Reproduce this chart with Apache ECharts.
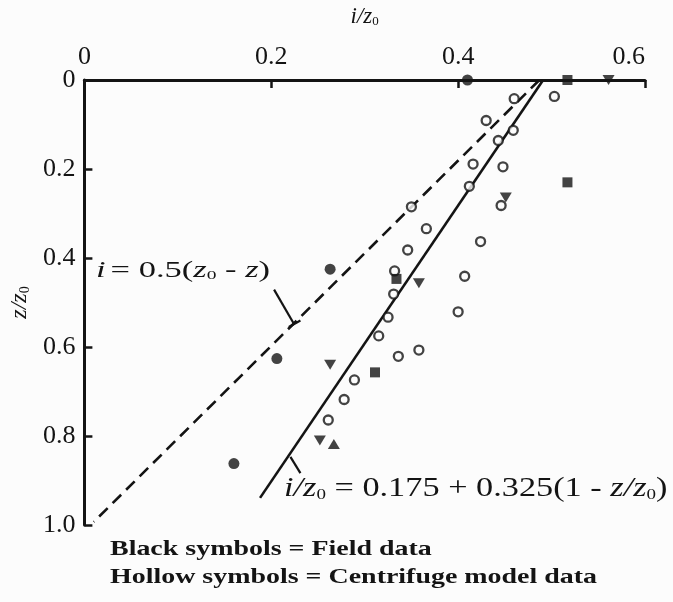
<!DOCTYPE html>
<html><head><meta charset="utf-8">
<script src="https://cdn.jsdelivr.net/npm/echarts@6/dist/echarts.min.js"></script>
<style>html,body{margin:0;padding:0;background:#fcfcfc}#c{width:673px;height:602px}</style>
</head><body><div id="c"></div>
<script>
// tick values
const xTicks = [0, 0.2, 0.4, 0.6];
const yTicks = [0, 0.2, 0.4, 0.6, 0.8, 1.0];
// Field data (black symbols) [i/z0, z/z0]
const fieldCircles = [[0.410, 0.000], [0.263, 0.425], [0.206, 0.626], [0.160, 0.862]];
const fieldSquares = [[0.517, 0.000], [0.517, 0.230], [0.334, 0.447], [0.311, 0.657]];
const fieldDownTriangles = [[0.561, 0.000], [0.451, 0.264], [0.358, 0.457], [0.263, 0.640], [0.252, 0.810]];
const fieldUpTriangles = [[0.267, 0.818]];
// Centrifuge model data (hollow symbols)
const centrifuge = [
  [0.503, 0.037], [0.460, 0.042], [0.430, 0.091], [0.459, 0.113], [0.443, 0.136],
  [0.416, 0.189], [0.448, 0.195], [0.412, 0.239], [0.446, 0.282], [0.350, 0.285],
  [0.366, 0.334], [0.424, 0.363], [0.346, 0.382], [0.332, 0.429], [0.407, 0.441],
  [0.331, 0.481], [0.400, 0.521], [0.325, 0.533], [0.315, 0.575], [0.358, 0.607],
  [0.336, 0.621], [0.289, 0.674], [0.278, 0.718], [0.261, 0.764]
];
// Design lines
const solidLine = [[0.491, 0.000], [0.188, 0.939]];   // i/z0 = 0.175 + 0.325(1 - z/z0)
const dashedLine = [[0.487, 0.000], [0.010, 0.993]];  // i = 0.5(z0 - z)
// annotation leaders
const leaderDashed = [[0.203, 0.471], [0.2245, 0.549]];
const leaderDashedBar = [[0.2188, 0.5551], [0.2312, 0.5405]];
const leaderSolid = [[0.2205, 0.8468], [0.2312, 0.8834]];

const INK = '#141414';
const SERIF = '"Liberation Serif","Times New Roman",serif';

const chart = echarts.init(document.getElementById('c'), null, {renderer: 'canvas'});

function lineSeries(data, type, width) {
  return {type: 'line', data: data, symbol: 'none', silent: true, z: 2,
    lineStyle: {color: INK, width: width, type: type}};
}
function eqRich(size, sub) {
  return {
    it: {fontFamily: SERIF, fontStyle: 'italic', fontSize: size, fill: INK},
    n: {fontFamily: SERIF, fontSize: size, fill: INK},
    s: {fontFamily: SERIF, fontSize: sub, fill: INK, verticalAlign: 'bottom', padding: [Math.round(size * 0.33), 0, 0, 0]}
  };
}

const option = {
  backgroundColor: '#fcfcfc',
  animation: false,
  grid: {left: 81, right: 28, top: 68, bottom: 77},
  xAxis: {
    type: 'value', position: 'top', min: xTicks[0], max: xTicks[xTicks.length - 1], interval: 0.2,
    name: '{it|i/z}{s|0}', nameLocation: 'middle', nameGap: 52,
    nameTextStyle: {rich: {
      it: {fontFamily: SERIF, fontStyle: 'italic', fontSize: 23, color: INK},
      s: {fontFamily: SERIF, fontSize: 13, color: INK, verticalAlign: 'bottom', padding: [7, 0, 0, 0]}
    }},
    axisLine: {show: true, onZero: false, lineStyle: {color: INK, width: 3}},
    axisTick: {show: true, inside: true, length: 8, lineStyle: {color: INK, width: 2.5}},
    axisLabel: {fontFamily: SERIF, fontSize: 26, color: INK, margin: 10, alignMaxLabel: 'right',
      formatter: v => v === 0 ? '0' : v.toFixed(1)},
    splitLine: {show: false}
  },
  yAxis: {
    type: 'value', inverse: true, min: yTicks[0], max: yTicks[yTicks.length - 1], interval: 0.2,
    name: '{it|z/z}{s|0}', nameLocation: 'middle', nameGap: 46,
    nameTextStyle: {rich: {
      it: {fontFamily: SERIF, fontStyle: 'italic', fontSize: 24, color: INK},
      s: {fontFamily: SERIF, fontSize: 14, color: INK, verticalAlign: 'bottom', padding: [7, 0, 0, 0]}
    }},
    axisLine: {show: true, onZero: false, lineStyle: {color: INK, width: 3}},
    axisTick: {show: true, inside: true, length: 8, lineStyle: {color: INK, width: 2.5}},
    axisLabel: {fontFamily: SERIF, fontSize: 26, color: INK, margin: 9,
      formatter: v => v === 0 ? '0' : v.toFixed(1)},
    splitLine: {show: false}
  },
  series: [
    lineSeries(dashedLine, [12, 7], 2.6),
    lineSeries(solidLine, 'solid', 2.6),
    lineSeries(leaderDashed, 'solid', 2.2),
    lineSeries(leaderDashedBar, 'solid', 2.2),
    lineSeries(leaderSolid, 'solid', 2.2),
    {type: 'scatter', name: 'Centrifuge', data: centrifuge, symbol: 'circle', symbolSize: 9, z: 3,
      itemStyle: {color: '#fcfcfc', borderColor: INK, borderWidth: 2.3}},
    {type: 'scatter', name: 'Field circle', data: fieldCircles, symbol: 'circle', symbolSize: 11, z: 4,
      itemStyle: {color: INK}},
    {type: 'scatter', name: 'Field square', data: fieldSquares, symbol: 'rect', symbolSize: 10, z: 4,
      itemStyle: {color: INK}},
    {type: 'scatter', name: 'Field down triangle', data: fieldDownTriangles, symbol: 'triangle', symbolRotate: 180, symbolSize: [12, 10], z: 4,
      itemStyle: {color: INK}},
    {type: 'scatter', name: 'Field up triangle', data: fieldUpTriangles, symbol: 'triangle', symbolSize: [12, 10], z: 4,
      itemStyle: {color: INK}}
  ],
  graphic: [
    {type: 'text', x: 96, y: 271, scaleX: 1.5, z: 10, style: {
      text: '{it|i} {n|= 0.5(}{it|z}{s|0}{n| - }{it|z}{n|)}',
      align: 'left', verticalAlign: 'middle',
      rich: eqRich(23, 13)}},
    {type: 'text', x: 284, y: 489, scaleX: 1.27, z: 10, style: {
      text: '{it|i/z}{s|0}{n| = 0.175 + 0.325(1 - }{it|z/z}{s|0}{n|)}',
      align: 'left', verticalAlign: 'middle',
      rich: eqRich(27, 15)}},
    {type: 'text', x: 110, y: 549, scaleX: 1.27, z: 10, style: {
      text: 'Black symbols = Field data', fill: INK, align: 'left', verticalAlign: 'middle',
      font: 'bold 22px ' + SERIF}},
    {type: 'text', x: 110, y: 577, scaleX: 1.27, z: 10, style: {
      text: 'Hollow symbols = Centrifuge model data', fill: INK, align: 'left', verticalAlign: 'middle',
      font: 'bold 22px ' + SERIF}}
  ]
};
chart.setOption(option);
</script></body></html>
